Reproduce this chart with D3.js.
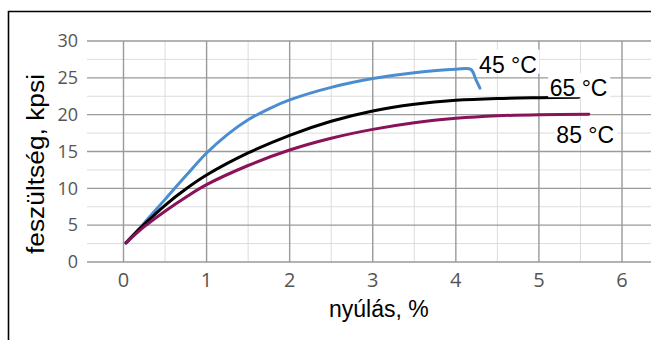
<!DOCTYPE html>
<html>
<head>
<meta charset="utf-8">
<script src="https://cdn.jsdelivr.net/npm/d3@7"></script>
<style>
  body { margin: 0; background: #fff; }
  svg { display: block; }
</style>
</head>
<body>
<div id="chart"></div>
<script>
// values
var strain45 = [0.03, 0.25, 0.5, 0.75, 1, 1.25, 1.5, 1.75, 2, 2.5, 3, 3.5, 4, 4.18, 4.24, 4.29];
var stress45 = [2.6, 5.3, 8.5, 11.7, 14.8, 17.3, 19.3, 20.8, 22.0, 23.7, 24.9, 25.7, 26.15, 26.15, 24.8, 23.6];
var strain65 = [0.03, 0.25, 0.5, 0.75, 1, 1.5, 2, 2.5, 3, 3.5, 4, 4.5, 5, 5.48];
var stress65 = [2.6, 5.1, 7.7, 9.9, 11.8, 14.8, 17.2, 19.1, 20.5, 21.4, 21.95, 22.2, 22.3, 22.35];
var strain85 = [0.03, 0.25, 0.5, 0.75, 1, 1.5, 2, 2.5, 3, 3.5, 4, 4.5, 5, 5.6];
var stress85 = [2.6, 4.8, 6.9, 8.8, 10.5, 13.1, 15.2, 16.8, 18.0, 18.9, 19.5, 19.85, 20.0, 20.05];

var seriesNames = ["45 °C", "65 °C", "85 °C"];
// where each series label sits, in data units (x, baseline y)
var labelX = [4.28, 5.13, 5.21];
var labelY = [25.7, 22.5, 16.1];

var xTicks = [0, 1, 2, 3, 4, 5, 6];
var yTicks = [0, 5, 10, 15, 20, 25, 30];
var xTitle = "nyúlás, %";
var yTitle = "feszültség, kpsi";

var width = 651;
var height = 340;
var colors = ["#4a8dd0", "#000000", "#8a1259"];

var series = [
  { name: seriesNames[0], x: strain45, y: stress45 },
  { name: seriesNames[1], x: strain65, y: stress65 },
  { name: seriesNames[2], x: strain85, y: stress85 }
];

var svg = d3.select("#chart").append("svg").attr("width", width).attr("height", height);

var x = d3.scaleLinear().domain([0, 6]).range([123.5, 622]);
var y = d3.scaleLinear().domain([0, 30]).range([262, 41]);
var gridLeft = 87, gridRight = 651;

// frame (only left and top edge show in the crop)
svg.append("path").attr("d", "M8.5," + height + "V11.5H" + width)
  .attr("fill", "none").attr("stroke", "#000").attr("stroke-width", 1.6);

// minor grid
var g = svg.append("g");
var xMinor = d3.range(0.5, 6, 1);
var yMinor = d3.range(2.5, 30, 5);
g.selectAll(".xminor").data(xMinor).enter().append("line")
  .attr("x1", function(d) { return x(d); }).attr("x2", function(d) { return x(d); })
  .attr("y1", y(30)).attr("y2", y(0))
  .attr("stroke", "#dcdcdc").attr("stroke-width", 1);
g.selectAll(".yminor").data(yMinor).enter().append("line")
  .attr("x1", gridLeft).attr("x2", gridRight)
  .attr("y1", function(d) { return y(d); }).attr("y2", function(d) { return y(d); })
  .attr("stroke", "#dcdcdc").attr("stroke-width", 1);

// major grid
g.selectAll(".xmajor").data(xTicks).enter().append("line")
  .attr("x1", function(d) { return x(d); }).attr("x2", function(d) { return x(d); })
  .attr("y1", y(30)).attr("y2", y(0))
  .attr("stroke", "#9a9a9a").attr("stroke-width", 1.4);
g.selectAll(".ymajor").data(yTicks).enter().append("line")
  .attr("x1", gridLeft).attr("x2", gridRight)
  .attr("y1", function(d) { return y(d); }).attr("y2", function(d) { return y(d); })
  .attr("stroke", "#9a9a9a").attr("stroke-width", 1.4);

// tick labels
svg.selectAll(".ytick").data(yTicks).enter().append("text")
  .attr("x", 78).attr("y", function(d) { return y(d); })
  .attr("dy", "0.35em").attr("text-anchor", "end")
  .attr("font-family", "Open Sans, sans-serif").attr("font-size", 18).attr("fill", "#555")
  .text(function(d) { return d; });
svg.selectAll(".xtick").data(xTicks).enter().append("text")
  .attr("x", function(d) { return x(d); }).attr("y", 280)
  .attr("dy", "0.35em").attr("text-anchor", "middle")
  .attr("font-family", "Open Sans, sans-serif").attr("font-size", 20).attr("fill", "#555")
  .text(function(d) { return d; });

// curves
var line = d3.line()
  .x(function(d) { return x(d[0]); })
  .y(function(d) { return y(d[1]); })
  .curve(d3.curveCatmullRom.alpha(0.5));

svg.selectAll(".curve").data(series).enter().append("path")
  .attr("d", function(s) { return line(d3.zip(s.x, s.y)); })
  .attr("fill", "none")
  .attr("stroke", function(s, i) { return colors[i]; })
  .attr("stroke-width", 3)
  .attr("stroke-linecap", "round")
  .attr("stroke-linejoin", "round");

// series labels on white boxes
var labels = svg.selectAll(".lbl").data(series).enter().append("g");
labels.append("rect")
  .attr("x", function(s, i) { return x(labelX[i]) - 1.5; })
  .attr("y", function(s, i) { return y(labelY[i]) - 23; })
  .attr("width", 62)
  .attr("height", 24)
  .attr("fill", "#fff");
labels.append("text")
  .attr("x", function(s, i) { return x(labelX[i]); })
  .attr("y", function(s, i) { return y(labelY[i]); })
  .attr("font-family", "Liberation Sans, Arial, sans-serif").attr("font-size", 23)
  .attr("fill", "#000")
  .text(function(s) { return s.name; });

// axis titles
svg.append("text")
  .attr("x", 329).attr("y", 317)
  .attr("font-family", "Liberation Sans, Arial, sans-serif").attr("font-size", 23)
  .text(xTitle);
svg.append("text")
  .attr("transform", "translate(44,164) rotate(-90)")
  .attr("text-anchor", "middle")
  .attr("font-family", "Liberation Sans, Arial, sans-serif").attr("font-size", 23)
  .attr("textLength", 180).attr("lengthAdjust", "spacingAndGlyphs")
  .text(yTitle);
</script>
</body>
</html>
